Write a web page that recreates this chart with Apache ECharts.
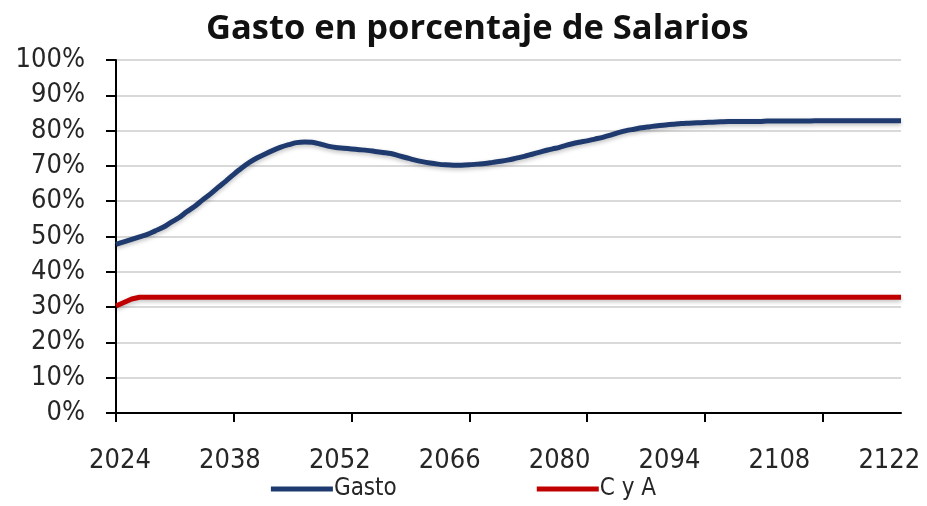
<!DOCTYPE html>
<html>
<head>
<meta charset="utf-8">
<style>
  html, body { margin: 0; padding: 0; background: #fff; }
  #chart { width: 927px; height: 506px; }
</style>
<script src="https://cdn.jsdelivr.net/npm/echarts@6.0.0/dist/echarts.min.js"></script>
</head>
<body>
<div id="chart"></div>
<script>
// --- Data ---

// yearly series, 2024 .. 2124 (the last labelled year is 2122)
const years = [];
for (let y = 2024; y <= 2124; y++) years.push(String(y));

const gasto = [
    47.8, 48.5, 49.2, 49.9, 50.6, 51.6, 52.6, 54.0, 55.3, 57.0,
    58.5, 60.3, 62.0, 63.9, 65.7, 67.6, 69.4, 71.0, 72.3, 73.4,
    74.4, 75.3, 76.0, 76.6, 76.8, 76.7, 76.2, 75.6, 75.2, 75.0,
    74.8, 74.6, 74.4, 74.1, 73.8, 73.5, 72.9, 72.3, 71.7, 71.2,
    70.8, 70.5, 70.3, 70.2, 70.2, 70.3, 70.5, 70.7, 71.0, 71.3,
    71.7, 72.2, 72.7, 73.3, 73.9, 74.5, 75.0, 75.6, 76.2, 76.7,
    77.1, 77.6, 78.1, 78.7, 79.4, 80.0, 80.4, 80.8, 81.1, 81.4,
    81.6, 81.8, 82.0, 82.1, 82.2, 82.3, 82.4, 82.5, 82.6, 82.6,
    82.6, 82.6, 82.6, 82.7, 82.7, 82.7, 82.7, 82.7, 82.7, 82.8,
    82.8, 82.8, 82.8, 82.8, 82.8, 82.8, 82.8, 82.8, 82.8, 82.8,
    82.8
];

const cya = [30.3, 31.3, 32.3, 32.8];
while (cya.length < years.length) cya.push(32.8);

const yTicks = [0, 10, 20, 30, 40, 50, 60, 70, 80, 90, 100];

// --- Chart ---

const labelFont = '"DejaVu Sans Condensed", "DejaVu Sans", sans-serif';

const chart = echarts.init(document.getElementById('chart'));
chart.setOption({
    animation: false,
    title: {
        text: 'Gasto en porcentaje de Salarios',
        left: 201,
        top: 7,
        textStyle: { fontFamily: '"Open Sans", sans-serif', fontWeight: 'bold', fontSize: 34.5, color: '#111' }
    },
    grid: { left: 116, right: 26, top: 60, bottom: 93, outerBoundsMode: 'none' },
    legend: {
        bottom: 0,
        left: 'center',
        icon: 'rect',
        itemWidth: 62,
        itemHeight: 5,
        itemGap: 140,
        textStyle: { fontFamily: labelFont, fontSize: 24, color: '#262626', padding: [0, 0, 0, -4] },
        data: ['Gasto', 'C y A']
    },
    xAxis: {
        type: 'category',
        data: years,
        boundaryGap: false,
        axisLine: { lineStyle: { color: '#000', width: 2 } },
        axisTick: { interval: 14, length: 9, lineStyle: { color: '#000', width: 2 } },
        axisLabel: { interval: 13, margin: 34, padding: [0, 0, 0, 8], fontFamily: labelFont, fontSize: 27, color: '#262626' },
        splitLine: { show: false }
    },
    yAxis: {
        type: 'value',
        min: yTicks[0],
        max: yTicks[yTicks.length - 1],
        interval: 10,
        axisLine: { show: true, lineStyle: { color: '#000', width: 2 } },
        axisTick: { show: true, length: 10, lineStyle: { color: '#000', width: 2 } },
        axisLabel: { margin: 31, fontFamily: labelFont, fontSize: 27, color: '#262626', formatter: '{value}%' },
        splitLine: { lineStyle: { color: '#d9d9d9', width: 2 } }
    },
    series: [
        {
            name: 'Gasto', type: 'line', data: gasto, showSymbol: false, smooth: 0.3,
            lineStyle: { color: '#1f3a6e', width: 5, shadowColor: 'rgba(0,0,0,0.25)', shadowBlur: 4, shadowOffsetY: 2 },
            itemStyle: { color: '#1f3a6e' }
        },
        {
            name: 'C y A', type: 'line', data: cya, showSymbol: false,
            lineStyle: { color: '#c00000', width: 5, shadowColor: 'rgba(0,0,0,0.25)', shadowBlur: 4, shadowOffsetY: 2 },
            itemStyle: { color: '#c00000' }
        }
    ]
});
</script>
</body>
</html>
